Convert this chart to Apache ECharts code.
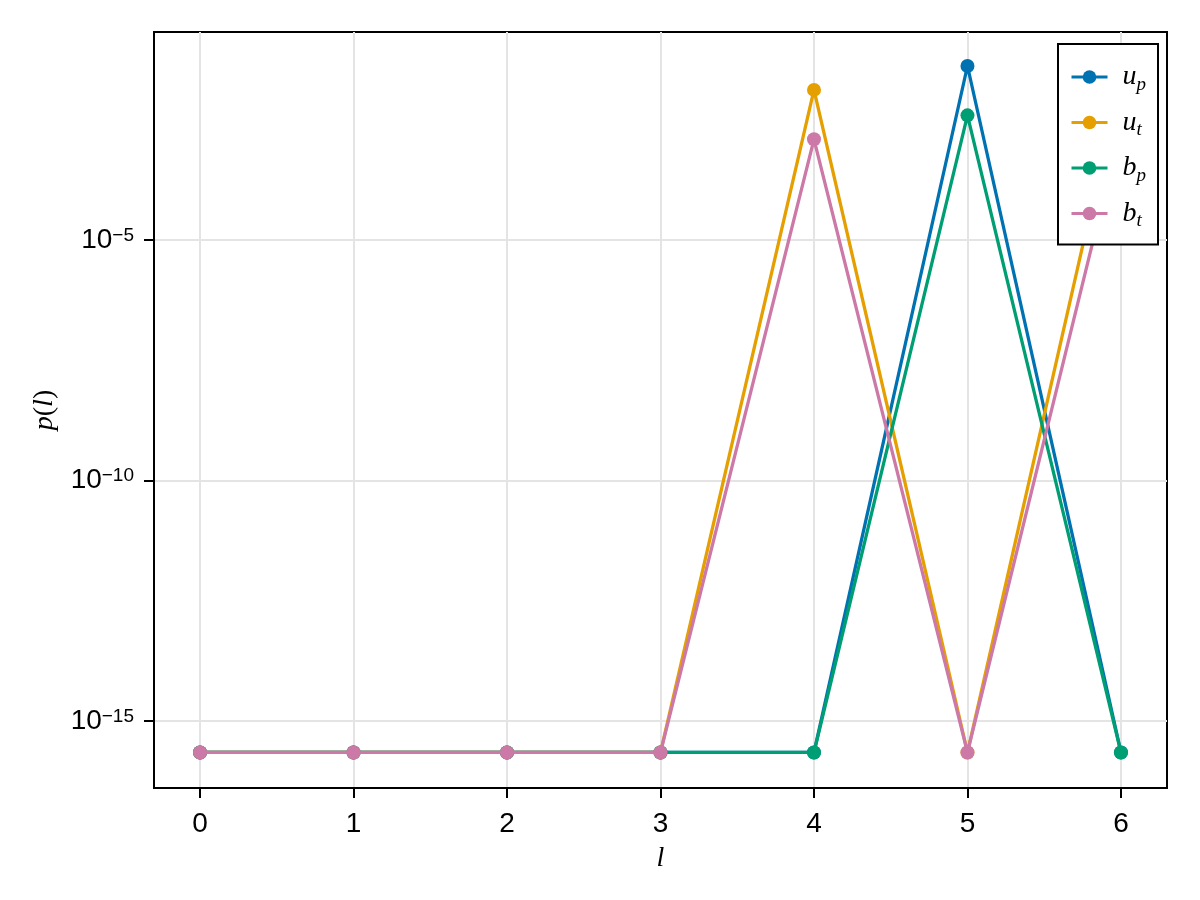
<!DOCTYPE html>
<html>
<head>
<meta charset="utf-8">
<script src="https://cdn.jsdelivr.net/npm/echarts@6/dist/echarts.min.js"></script>
<style>
  html, body { margin: 0; padding: 0; background: #fff; }
  #chart { width: 1200px; height: 900px; }
</style>
</head>
<body>
<div id="chart"></div>
<script>
// ---- data ----
const categories = [0, 1, 2, 3, 4, 5, 6];
const xTickValues = [0, 1, 2, 3, 4, 5, 6];
const yTickValues = [1e-15, 1e-10, 1e-5];
const seriesNames = ['u_p', 'u_t', 'b_p', 'b_t'];
const upValues = [2.22e-16, 2.22e-16, 2.22e-16, 2.22e-16, 2.22e-16, 0.0414, 2.22e-16];
const utValues = [2.22e-16, 2.22e-16, 2.22e-16, 2.22e-16, 0.0132, 2.22e-16, 0.024];
const bpValues = [2.22e-16, 2.22e-16, 2.22e-16, 2.22e-16, 2.22e-16, 0.0039, 2.22e-16];
const btValues = [2.22e-16, 2.22e-16, 2.22e-16, 2.22e-16, 0.00124, 2.22e-16, 0.0022];
const seriesColors = ['#0072B2', '#E69F00', '#009E73', '#CC79A7'];

const allValues = [upValues, utValues, bpValues, btValues];

const chart = echarts.init(document.getElementById('chart'), null, { renderer: 'canvas' });

const serifFont = '"Liberation Serif", "DejaVu Serif", serif';
const sansFont = '"Liberation Sans", Arial, sans-serif';

const series = seriesNames.map((name, k) => ({
  name: name,
  type: 'line',
  data: categories.map((x, i) => [x, allValues[k][i]]),
  symbol: 'circle',
  symbolSize: 14,
  showSymbol: true,
  lineStyle: { width: 3.3, color: seriesColors[k] },
  itemStyle: { color: seriesColors[k] },
  emphasis: { disabled: true },
  z: 2 + k
}));

const option = {
  animation: false,
  backgroundColor: '#ffffff',
  grid: {
    left: 154, right: 33, top: 32, bottom: 112,
    show: true, borderColor: '#000', borderWidth: 2, backgroundColor: 'transparent'
  },
  xAxis: {
    type: 'value',
    min: -0.3, max: 6.3,
    name: 'l',
    nameLocation: 'middle',
    nameGap: 57,
    nameTextStyle: { fontFamily: serifFont, fontStyle: 'italic', fontSize: 28, color: '#000' },
    axisLine: { show: true, onZero: false, lineStyle: { color: '#000', width: 2 } },
    axisTick: { show: true, inside: false, length: 10, lineStyle: { color: '#000', width: 2 }, customValues: xTickValues },
    axisLabel: { fontFamily: sansFont, fontSize: 28, color: '#000', margin: 22, customValues: xTickValues },
    splitLine: { show: true, lineStyle: { color: '#e4e4e4', width: 2 } }
  },
  yAxis: {
    type: 'log',
    logBase: 10,
    min: Math.pow(10, -16.393),
    max: Math.pow(10, -0.676),
    name: '{i|p}{r|(}{i|l}{r|)}',
    nameLocation: 'middle',
    nameGap: 95,
    nameTextStyle: {
      color: '#000',
      rich: {
        i: { fontFamily: serifFont, fontStyle: 'italic', fontSize: 28, color: '#000' },
        r: { fontFamily: serifFont, fontSize: 28, color: '#000' }
      }
    },
    axisLine: { show: true, onZero: false, lineStyle: { color: '#000', width: 2 } },
    axisTick: { show: true, inside: false, length: 10, lineStyle: { color: '#000', width: 2 }, customValues: yTickValues },
    axisLabel: {
      margin: 20,
      customValues: yTickValues,
      formatter: function (v) {
        const e = Math.round(Math.log10(v));
        return '{b|10}{s|' + (e < 0 ? '\u2212' + (-e) : e) + '}';
      },
      rich: {
        b: { fontFamily: sansFont, fontSize: 28, lineHeight: 28, verticalAlign: 'top', color: '#000' },
        s: { fontFamily: sansFont, fontSize: 19, lineHeight: 19, verticalAlign: 'top', color: '#000' }
      }
    },
    splitLine: { show: true, lineStyle: { color: '#e4e4e4', width: 2 } }
  },
  legend: {
    show: true,
    z: 20,
    orient: 'vertical',
    left: 1058,
    top: 44,
    padding: [19, 12, 14, 12],
    itemWidth: 36,
    itemHeight: 17,
    itemGap: 14.5,
    backgroundColor: '#ffffff',
    borderColor: '#000',
    borderWidth: 2,
    borderRadius: 0,
    selectedMode: false,
    lineStyle: { width: 3 },
    data: seriesNames,
    formatter: function (name) {
      const parts = name.split('_');
      return '{m|' + parts[0] + '}{sub|' + parts[1] + '}';
    },
    textStyle: {
      width: 21,
      padding: [0, 0, 0, 10],
      rich: {
        m: { fontFamily: serifFont, fontStyle: 'italic', fontSize: 28, lineHeight: 28, verticalAlign: 'top', color: '#000' },
        sub: { fontFamily: serifFont, fontStyle: 'italic', fontSize: 19, lineHeight: 19, verticalAlign: 'top', padding: [12, 0, 0, 0], color: '#000' }
      }
    }
  },
  series: series
};

chart.setOption(option);
</script>
</body>
</html>
